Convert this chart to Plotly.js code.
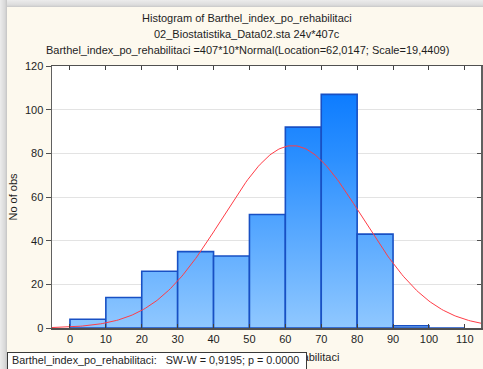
<!DOCTYPE html>
<html>
<head>
<meta charset="utf-8">
<script src="https://cdn.plot.ly/plotly-3.0.1.min.js"></script>
<style>
  html, body { margin:0; padding:0; width:483px; height:369px; overflow:hidden; }
  #frame { position:absolute; left:0; top:0; width:483px; height:369px;
           background: linear-gradient(to right, #ececec 0px, #d8d8d8 5px, #c4c4c4 7px, transparent 7px),
                       linear-gradient(to bottom, #ececec 0px, #dcdcdc 5px, #c8c8c8 7px, #fdf9ee 7px); }
  #chart { position:absolute; left:7px; top:7px; width:476px; height:362px; }
</style>
</head>
<body>
<div id="frame"></div>
<div id="chart"></div>
<script>
// ---- data ----
const binStarts = [0, 10, 20, 30, 40, 50, 60, 70, 80, 90, 100];
const counts    = [4, 14, 26, 35, 33, 52, 92, 107, 43, 1, 0];
const binWidth = 10;
const nObs = 407;
const fitLocation = 62.0147;
const fitScale = 19.4409;
const xTicks = [0, 10, 20, 30, 40, 50, 60, 70, 80, 90, 100, 110];
const yTicks = [0, 20, 40, 60, 80, 100, 120];
const titleLines = [
  "Histogram of Barthel_index_po_rehabilitaci",
  "02_Biostatistika_Data02.sta 24v*407c",
  "Barthel_index_po_rehabilitaci =407*10*Normal(Location=62,0147; Scale=19,4409)"
];
const xTitle = "Barthel_index_po_rehabilitaci";
const yTitle = "No of obs";
const testText = "\u00a0Barthel_index_po_rehabilitaci:\u00a0\u00a0\u00a0SW-W = 0,9195; p = 0.0000";

// fitted normal curve as stated in the chart subtitle (N * binWidth * Normal pdf)
const curveX = [], curveY = [];
for (let x = -5; x <= 114.5; x += 0.5) {
  const z = (x - fitLocation) / fitScale;
  curveX.push(x);
  curveY.push(nObs * binWidth * Math.exp(-0.5 * z * z) / (fitScale * Math.sqrt(2 * Math.PI)));
}

const font = {family: "Liberation Sans, Arial, sans-serif", size: 11, color: "#1e1e1e"};
const boxFont = {family: "Liberation Sans, Arial, sans-serif", size: 10.8, color: "#1e1e1e"};
const range = [-5, 114.5];

const traces = [
  {type: "bar", x: binStarts, y: counts, width: binWidth, offset: 0,
   marker: {color: "#4aa3ff", line: {color: "#1850c4", width: 1.6}},
   hoverinfo: "skip", showlegend: false},
  {type: "scatter", mode: "lines", x: curveX, y: curveY,
   line: {color: "#ff3c46", width: 1}, hoverinfo: "skip", showlegend: false, cliponaxis: true}
];

const titleY = [1.1832, 1.1221, 1.0611];
const annotations = titleLines.map((t, i) => ({
  text: t, xref: "paper", yref: "paper", x: 0.4557, y: titleY[i],
  xanchor: "center", yanchor: "middle", showarrow: false, font: font
}));
// x-axis title (partly hidden behind the test-result box, as in the reference)
annotations.push({
  text: xTitle, xref: "paper", yref: "paper", x: 0.5, y: -0.1107,
  xanchor: "center", yanchor: "middle", showarrow: false, font: font
});
annotations.push({
  text: testText, xref: "paper", yref: "paper", x: -0.1049, y: -0.0916,
  xanchor: "left", yanchor: "top", align: "left", valign: "top",
  width: 296, height: 20, borderpad: 1, borderwidth: 1, bordercolor: "#3a3a3a",
  bgcolor: "#ffffff", showarrow: false, font: boxFont
});

const layout = {
  width: 476, height: 362,
  margin: {l: 45, r: 2, t: 59, b: 41, pad: 0},
  paper_bgcolor: "#fdf9ee", plot_bgcolor: "#ffffff",
  font: font, bargap: 0,
  xaxis: {range: range, tickvals: xTicks, ticktext: xTicks.map(String),
          ticks: "inside", ticklen: 4, tickcolor: "#404040", mirror: "ticks",
          showline: true, linecolor: "#505050", linewidth: 1.5,
          showgrid: false, zeroline: false, tickfont: font},
  yaxis: {range: [0, 120], tickvals: yTicks, ticktext: yTicks.map(String),
          ticks: "outside", ticklen: 5, tickcolor: "#505050", mirror: true,
          showline: true, linecolor: "#606060", linewidth: 1.5,
          showgrid: true, gridcolor: "#e3e3e3", gridwidth: 1, zeroline: false,
          tickfont: font, title: {text: yTitle, font: font, standoff: 6}},
  yaxis2: {range: [0, 120], tickvals: yTicks, overlaying: "y", side: "right",
           ticks: "inside", ticklen: 4, tickcolor: "#505050", showticklabels: false,
           showgrid: false, zeroline: false, showline: false},
  annotations: annotations
};

// invisible point so that the right-hand mirrored tick axis is drawn
traces.push({type: "scatter", x: [0], y: [0], yaxis: "y2", mode: "markers",
             marker: {opacity: 0}, hoverinfo: "skip", showlegend: false});

Plotly.newPlot("chart", traces, layout, {staticPlot: true}).then(function (gd) {
  // vertical gradient fill for the bars, in plot coordinates
  const svg = gd.querySelector("svg.main-svg");
  const ns = "http://www.w3.org/2000/svg";
  let defs = svg.querySelector("defs");
  if (!defs) { defs = document.createElementNS(ns, "defs"); svg.insertBefore(defs, svg.firstChild); }
  const grad = document.createElementNS(ns, "linearGradient");
  grad.setAttribute("id", "barGrad");
  grad.setAttribute("gradientUnits", "userSpaceOnUse");
  grad.setAttribute("x1", "0"); grad.setAttribute("x2", "0");
  grad.setAttribute("y1", "0"); grad.setAttribute("y2", String(gd._fullLayout._size.h));
  [["0", "#0074ff"], ["0.35", "#2b8fff"], ["1", "#90c8ff"]].forEach(function (s) {
    const st = document.createElementNS(ns, "stop");
    st.setAttribute("offset", s[0]); st.setAttribute("stop-color", s[1]);
    grad.appendChild(st);
  });
  defs.appendChild(grad);
  gd.querySelectorAll(".barlayer .point path").forEach(function (p) {
    p.style.fill = "url(#barGrad)";
  });
});
</script>
</body>
</html>
